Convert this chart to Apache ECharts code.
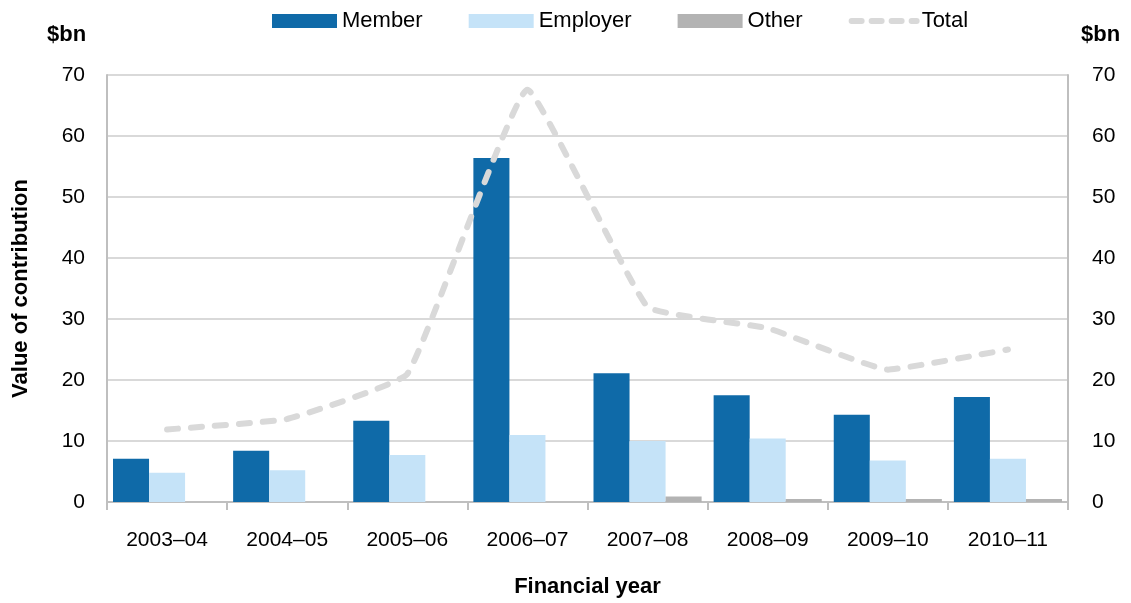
<!DOCTYPE html>
<html>
<head>
<meta charset="utf-8">
<script src="https://cdn.jsdelivr.net/npm/echarts@6/dist/echarts.min.js"></script>
<style>
    html, body { margin: 0; padding: 0; background: #fff; }
    #chart { width: 1131px; height: 603px; }
</style>
</head>
<body>
<div id="chart"></div>
<script>
const years = ['2003–04', '2004–05', '2005–06', '2006–07', '2007–08', '2008–09', '2009–10', '2010–11']
const member = [7.1, 8.4, 13.3, 56.4, 21.1, 17.5, 14.3, 17.2]
const employer = [4.8, 5.2, 7.7, 11.0, 10.0, 10.4, 6.8, 7.1]
const other = [0, 0, 0, 0, 0.9, 0.5, 0.5, 0.5]
const total = [11.9, 13.6, 21.0, 67.6, 32.0, 28.5, 21.7, 25.0]

const font = 'Liberation Sans, Arial, sans-serif'
const chart = echarts.init(document.getElementById('chart'))

const valueAxis = (pos) => ({
    type: 'value',
    position: pos,
    min: 0,
    max: 70,
    interval: 10,
    axisLine: { show: true, lineStyle: { color: '#bfbfbf', width: 2 } },
    axisTick: { show: false },
    splitLine: { show: pos === 'left', lineStyle: { color: '#d9d9d9', width: 2 } },
    axisLabel: { color: '#000', fontSize: 21, fontFamily: font, margin: pos === 'left' ? 22 : 24 }
})

let option = {
    animation: false,
    textStyle: { fontFamily: font },
    legend: {
        top: 5,
        left: 267,
        itemWidth: 65,
        itemHeight: 14,
        itemGap: 46,
        textStyle: { fontSize: 22, color: '#000', fontFamily: font },
        data: [
            { name: 'Member', icon: 'rect' },
            { name: 'Employer', icon: 'rect' },
            { name: 'Other', icon: 'rect' },
            {
                name: 'Total',
                itemStyle: { opacity: 0 },
                lineStyle: { width: 6, type: [10, 10], cap: 'round', color: '#d9d9d9' }
            }
        ]
    },
    grid: { left: 107, right: 63, top: 75, bottom: 101 },
    graphic: [
        { type: 'text', left: 47, top: 24, style: { text: '$bn', font: 'bold 22px ' + font, fill: '#000' } },
        { type: 'text', left: 1081, top: 24, style: { text: '$bn', font: 'bold 22px ' + font, fill: '#000' } }
    ],
    xAxis: {
        type: 'category',
        data: years,
        name: 'Financial year',
        nameLocation: 'middle',
        nameGap: 74,
        nameTextStyle: { fontSize: 22, fontWeight: 'bold', color: '#000' },
        axisLine: { lineStyle: { color: '#bfbfbf', width: 2 } },
        axisTick: { show: true, length: 8, lineStyle: { color: '#bfbfbf', width: 2 } },
        axisLabel: { color: '#000', fontSize: 21, margin: 28 }
    },
    yAxis: [
        Object.assign(valueAxis('left'), {
            name: 'Value of contribution',
            nameLocation: 'middle',
            nameGap: 75,
            nameTextStyle: { fontSize: 22, fontWeight: 'bold', color: '#000' }
        }),
        valueAxis('right')
    ],
    series: [
        {
            name: 'Member', type: 'bar', data: member, barGap: '0%', barCategoryGap: '10%',
            itemStyle: { color: '#0f6aa8' }
        },
        {
            name: 'Employer', type: 'bar', data: employer,
            itemStyle: { color: '#c5e3f8' }
        },
        {
            name: 'Other', type: 'bar', data: other,
            itemStyle: { color: '#b3b3b3' }
        },
        {
            name: 'Total', type: 'line', data: total, smooth: 0.1,
            symbol: 'none',
            lineStyle: { color: '#d9d9d9', width: 6, type: [11, 13], cap: 'round' },
            itemStyle: { color: '#d9d9d9' }
        }
    ]
}
chart.setOption(option)
</script>
</body>
</html>
